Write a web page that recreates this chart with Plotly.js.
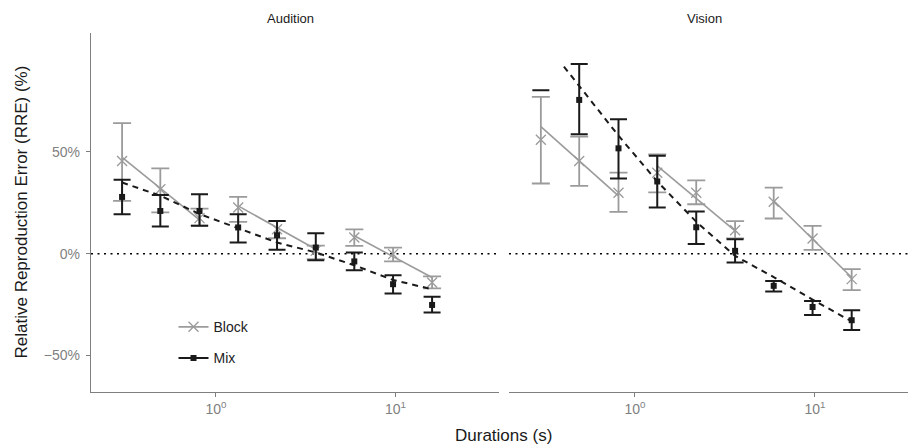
<!DOCTYPE html>
<html>
<head>
<meta charset="utf-8">
<script src="https://cdn.plot.ly/plotly-3.0.1.min.js"></script>
<style>html,body{margin:0;padding:0;background:#fff;}#chart{width:908px;height:445px;}</style>
</head>
<body>
<div id="chart"></div>
<script>
// ---------- DATA ----------
const durations = [0.3, 0.49, 0.81, 1.33, 2.19, 3.6, 5.9, 9.7, 16];
const panels = ["Audition", "Vision"];
const conditions = ["Block", "Mix"];
const yTickVals = [-50, 0, 50];
const yTickText = ["\u221250%", "0%", "50%"];
const xTickVals = [1, 10];
const xTickText = ["10<sup>0</sup>", "10<sup>1</sup>"];

// Audition
const audBlockMean = [45.6, 31.7, 17.5, 22.7, 12.0, 1.5, 8.0, -0.2, -14.2];
const audBlockLow  = [26.0, 20.3, 13.8, 15.6, 7.6, -2.7, 3.8, -3.8, -17.1];
const audBlockHigh = [64.2, 41.9, 22.2, 27.9, 16.0, 4.0, 12.0, 3.0, -11.2];
const audMixMean = [27.9, 21.0, 21.0, 12.9, 9.1, 3.0, -3.8, -15.0, -25.2];
const audMixLow  = [19.4, 13.4, 13.7, 5.5, 1.9, -3.2, -8.1, -19.6, -28.9];
const audMixHigh = [36.3, 28.8, 29.2, 19.4, 16.1, 10.1, 0.6, -10.6, -21.2];

// Vision (Mix at the shortest duration lies above the plotted range; only its lower bound shows)
const visBlockMean = [56.0, 45.6, 30.0, 39.8, 30.0, 11.5, 25.5, 7.5, -12.5];
const visBlockLow  = [34.5, 33.3, 20.6, 30.1, 24.3, 7.5, 17.3, 1.9, -17.9];
const visBlockHigh = [77.1, 57.6, 39.9, 48.8, 36.0, 16.0, 32.5, 13.7, -7.6];
const visMixMean = [null, 75.6, 51.8, 35.5, 13.0, 1.4, -15.8, -26.2, -32.7];
const visMixLow  = [80.4, 58.7, 37.0, 22.7, 4.8, -4.3, -18.6, -30.1, -37.5];
const visMixHigh = [null, 93.2, 66.1, 48.1, 20.7, 7.1, -13.4, -23.2, -27.8];

// Fitted lines; null separates segments
const audBlockFitX = [0.3, 0.81, null, 1.33, 3.6, null, 5.9, 16];
const audBlockFitY = [47.3, 16.6, null, 23.5, 2.2, null, 8.8, -11.7];
const visBlockFitX = [0.3, 0.81, null, 1.33, 3.6, null, 5.9, 16];
const visBlockFitY = [62.5, 28.4, null, 43.2, 11.2, null, 26.0, -11.7];
const audMixFitX = [0.3, 0.49, 0.81, 1.33, 2.19, 3.6, 5.9, 9.7, 16];
const audMixFitY = [35.0, 28.5, 19.5, 12.5, 5.5, 0.6, -5.7, -12.9, -17.5];
const visMixFitX = [0.403, 0.49, 0.81, 1.33, 2.19, 3.6, 5.9, 9.7, 16];
const visMixFitY = [92.0, 82.5, 58.0, 35.5, 15.7, -1.1, -11.5, -22.6, -33.3];

// ---------- STYLE ----------
const GRAY = "#9b9b9b";
const BLACK = "#1a1a1a";
const AXIS = "#7f7f7f";
const FONT = "Liberation Sans, Arial, Helvetica, sans-serif";

function errTrace(xs, mean, low, high, xa, ya, color, marker, thick, capw) {
  const x = [], y = [], up = [], dn = [];
  for (let i = 0; i < xs.length; i++) {
    if (mean[i] === null) continue;
    x.push(xs[i]); y.push(mean[i]);
    up.push(high[i] - mean[i]); dn.push(mean[i] - low[i]);
  }
  return {
    type: "scatter", mode: "markers", x: x, y: y, xaxis: xa, yaxis: ya,
    showlegend: false, hoverinfo: "skip", cliponaxis: true,
    marker: marker,
    error_y: {type: "data", symmetric: false, array: up, arrayminus: dn,
              color: color, thickness: thick, width: capw}
  };
}
function loneCaps(xs, mean, low, xa, ya, color, thick, capw) {
  const x = [], y = [], z = [];
  for (let i = 0; i < xs.length; i++) {
    if (mean[i] === null && low[i] !== null) { x.push(xs[i]); y.push(low[i]); z.push(0); }
  }
  return {
    type: "scatter", mode: "markers", x: x, y: y, xaxis: xa, yaxis: ya,
    showlegend: false, hoverinfo: "skip",
    marker: {size: 1, color: "rgba(0,0,0,0)"},
    error_y: {type: "data", symmetric: false, array: z, arrayminus: z,
              color: color, thickness: thick, width: capw}
  };
}
function fitTrace(xs, ys, xa, ya, color, width, dash) {
  return {
    type: "scatter", mode: "lines", x: xs, y: ys, xaxis: xa, yaxis: ya,
    connectgaps: false, showlegend: false, hoverinfo: "skip",
    line: {color: color, width: width, dash: dash}
  };
}

const blockMarker = {symbol: "x-thin-open", size: 10, color: GRAY, line: {color: GRAY, width: 1.3}};
const mixMarker = {symbol: "square", size: 6, color: BLACK};

const sets = [
  {xa: "x", ya: "y", bm: audBlockMean, bl: audBlockLow, bh: audBlockHigh,
   mm: audMixMean, ml: audMixLow, mh: audMixHigh,
   bfx: audBlockFitX, bfy: audBlockFitY, mfx: audMixFitX, mfy: audMixFitY},
  {xa: "x2", ya: "y2", bm: visBlockMean, bl: visBlockLow, bh: visBlockHigh,
   mm: visMixMean, ml: visMixLow, mh: visMixHigh,
   bfx: visBlockFitX, bfy: visBlockFitY, mfx: visMixFitX, mfy: visMixFitY}
];

const traces = [];
sets.forEach(s => {
  traces.push(fitTrace(s.bfx, s.bfy, s.xa, s.ya, GRAY, 1.6, "solid"));
  traces.push(errTrace(durations, s.bm, s.bl, s.bh, s.xa, s.ya, GRAY, blockMarker, 1.8, 9));
  traces.push(fitTrace(s.mfx, s.mfy, s.xa, s.ya, BLACK, 2, "6px,5px"));
  traces.push(errTrace(durations, s.mm, s.ml, s.mh, s.xa, s.ya, BLACK, mixMarker, 2, 8.5));
  traces.push(loneCaps(durations, s.mm, s.ml, s.xa, s.ya, BLACK, 2, 8.5));
});
// legend entries
traces.push({type: "scatter", mode: "lines+markers", x: [null], y: [null], name: conditions[0],
  legendgroup: "b", line: {color: GRAY, width: 1.6}, marker: blockMarker, hoverinfo: "skip"});
traces.push({type: "scatter", mode: "lines+markers", x: [null], y: [null], name: conditions[1],
  legendgroup: "m", line: {color: BLACK, width: 2}, marker: mixMarker, hoverinfo: "skip"});

const xCommon = {
  type: "log", tickvals: xTickVals, ticktext: xTickText,
  ticks: "outside", ticklen: 4, tickcolor: AXIS, tickwidth: 1,
  showline: true, linecolor: AXIS, linewidth: 1.2, showgrid: false, zeroline: false,
  tickfont: {family: FONT, size: 14, color: AXIS}
};
const layout = {
  width: 908, height: 445,
  margin: {l: 91, r: 0, t: 33, b: 53},
  paper_bgcolor: "#fff", plot_bgcolor: "#fff",
  font: {family: FONT, color: "#222"},
  showlegend: true,
  legend: {x: 0.101, y: 0.225, xanchor: "left", yanchor: "top", bgcolor: "rgba(0,0,0,0)",
           font: {family: FONT, size: 14, color: "#222"}, tracegroupgap: 10},
  xaxis: Object.assign({}, xCommon, {domain: [0, 0.4994], range: [-0.696, 1.577], anchor: "y"}),
  xaxis2: Object.assign({}, xCommon, {domain: [0.5116, 1], range: [-0.70, 1.517], anchor: "y2"}),
  yaxis: {range: [-68, 108.5], tickvals: yTickVals, ticktext: yTickText,
          ticks: "outside", ticklen: 4, tickcolor: AXIS, showline: true, linecolor: AXIS, linewidth: 1.2,
          showgrid: false, zeroline: false, ticklabelstandoff: 3,
          tickfont: {family: FONT, size: 14, color: AXIS}, anchor: "x"},
  yaxis2: {range: [-68, 108.5], matches: "y", showticklabels: false, showline: false, ticks: "",
           showgrid: false, zeroline: false, anchor: "x2"},
  shapes: [
    {type: "line", xref: "x domain", yref: "y", x0: 0, x1: 1, y0: 0, y1: 0, layer: "below",
     line: {color: "#000", width: 1.5, dash: "2px,4.5px"}},
    {type: "line", xref: "x2 domain", yref: "y2", x0: 0, x1: 1, y0: 0, y1: 0, layer: "below",
     line: {color: "#000", width: 1.5, dash: "2px,4.5px"}}
  ],
  annotations: [
    {text: panels[0], xref: "x domain", yref: "paper", x: 0.49, y: 1, yshift: 15, showarrow: false,
     xanchor: "center", yanchor: "middle", font: {family: FONT, size: 13, color: "#1a1a1a"}},
    {text: panels[1], xref: "x2 domain", yref: "paper", x: 0.49, y: 1, yshift: 15, showarrow: false,
     xanchor: "center", yanchor: "middle", font: {family: FONT, size: 13, color: "#1a1a1a"}},
    {text: "Durations (s)", xref: "paper", yref: "paper", x: 0.5055, y: 0, yshift: -43, showarrow: false,
     xanchor: "center", yanchor: "middle", font: {family: FONT, size: 17, color: "#1a1a1a"}},
    {text: "Relative Reproduction Error (RRE) (%)", xref: "paper", yref: "paper", x: 0, xshift: -70,
     y: 0.5, showarrow: false, textangle: -90, xanchor: "center", yanchor: "middle",
     font: {family: FONT, size: 17, color: "#1a1a1a"}}
  ]
};

Plotly.newPlot("chart", traces, layout, {staticPlot: true, displayModeBar: false});
</script>
</body>
</html>
